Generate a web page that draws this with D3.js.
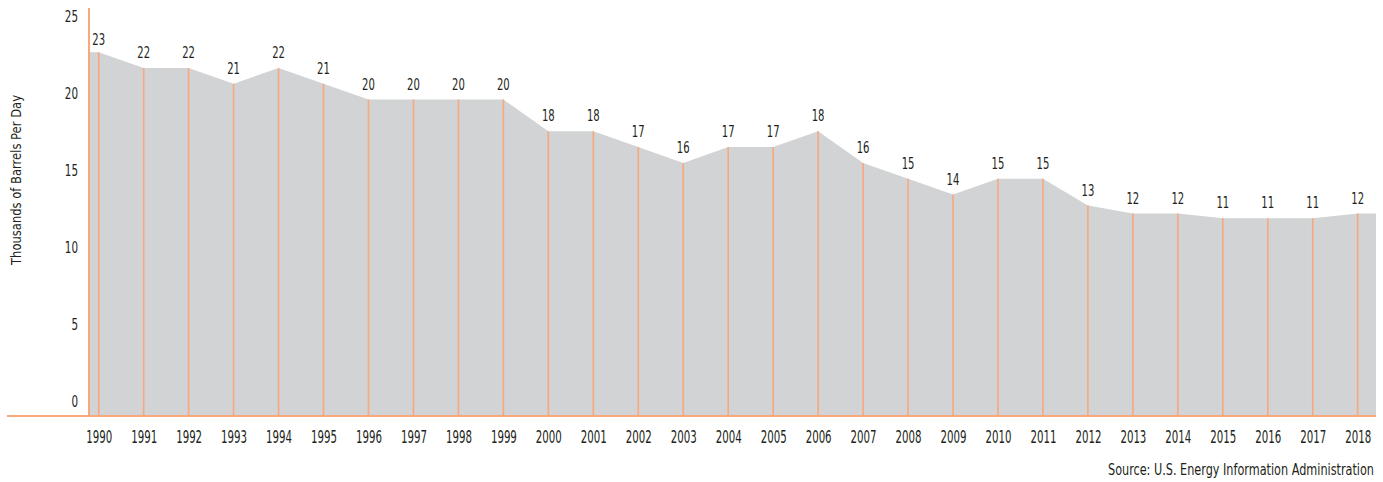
<!DOCTYPE html>
<html lang="en">

<head>
    <meta charset="UTF-8">
    <title>Consumption</title>
    <script src="https://d3js.org/d3.v7.min.js"></script>
    <style>
        body { margin: 0; background: #fff; }
        text { font-family: "Liberation Sans Narrow", "DejaVu Sans Condensed", "Roboto", sans-serif; fill: #231f20; }
    </style>
</head>

<body>
    <svg id="chart" width="1383" height="482"></svg>
</body>
<script>
    // data
    const years = d3.range(1990, 2019);
    const values = [23, 22, 22, 21, 22, 21, 20, 20, 20, 20, 18, 18, 17, 16, 17, 17, 18, 16, 15, 14, 15, 15,
        13.3, 12.8, 12.8, 12.5, 12.5, 12.5, 12.8];
    const labels = ['23', '22', '22', '21', '22', '21', '20', '20', '20', '20', '18', '18', '17', '16', '17', '17',
        '18', '16', '15', '14', '15', '15', '13', '12', '12', '11', '11', '11', '12'];
    const yTicks = [0, 5, 10, 15, 20, 25];

    const orange = '#f8a87c';
    const grey = '#d1d3d4';

    const svg = d3.select('#chart');
    const left = 89, right = 1376, base = 416;

    const x = d3.scaleLinear().domain([1990, 2018]).range([98.7, 1357.7]);
    const y = d3.scaleLinear().domain([0, 25]).range([base, base - 25 * 15.82]);
    // tick labels sit a bit above their gridline in the original
    const yLabel = d3.scaleLinear().domain([0, 25]).range([402, 17]);

    // the original font is a narrow DIN-like face, squeeze ours to the same width
    const squeeze = (sel, perChar) => sel
        .attr('textLength', function () { return this.textContent.length * perChar; })
        .attr('lengthAdjust', 'spacingAndGlyphs');

    const pts = years.map((yr, i) => ({ px: x(yr), v: values[i] }));
    const areaPts = [{ px: left, v: values[0] }, ...pts, { px: right, v: values[values.length - 1] }];

    // area
    svg.append('path')
        .datum(areaPts)
        .attr('fill', grey)
        .attr('d', d3.area().x(d => d.px).y0(base).y1(d => y(d.v)));

    // drop lines
    svg.append('g').selectAll('line')
        .data(pts)
        .join('line')
        .attr('x1', d => d.px).attr('x2', d => d.px)
        .attr('y1', d => y(d.v)).attr('y2', base)
        .attr('stroke', orange)
        .attr('stroke-width', 1.6);

    // value labels
    svg.append('g').selectAll('text')
        .data(pts)
        .join('text')
        .attr('x', d => d.px)
        .attr('y', (d, i) => y(d.v) - (i === 0 ? 7 : 10))
        .attr('text-anchor', 'middle')
        .attr('font-size', 15)
        .text((d, i) => labels[i])
        .call(squeeze, 6.4);

    // axes lines
    svg.append('line')
        .attr('x1', 7).attr('x2', right)
        .attr('y1', base).attr('y2', base)
        .attr('stroke', orange).attr('stroke-width', 2);
    svg.append('line')
        .attr('x1', left).attr('x2', left)
        .attr('y1', 8).attr('y2', base)
        .attr('stroke', orange).attr('stroke-width', 2);

    // y axis
    const yAxis = svg.append('g')
        .attr('transform', 'translate(78,0)')
        .call(d3.axisLeft(yLabel).tickValues(yTicks).tickSize(0).tickPadding(0));
    yAxis.select('.domain').remove();
    yAxis.selectAll('text').attr('font-size', 15).style('font-family', null).call(squeeze, 6.6);

    // x axis
    const xAxis = svg.append('g')
        .attr('transform', `translate(0,${base})`)
        .call(d3.axisBottom(x).tickValues(years).tickFormat(d3.format('d')).tickSize(0).tickPadding(15));
    xAxis.select('.domain').remove();
    xAxis.selectAll('text').attr('font-size', 17).style('font-family', null).call(squeeze, 6.5);

    // titles
    svg.append('text')
        .attr('transform', 'translate(21,180) rotate(-90)')
        .attr('text-anchor', 'middle')
        .attr('font-size', 14)
        .attr('textLength', 170)
        .attr('lengthAdjust', 'spacingAndGlyphs')
        .text('Thousands of Barrels Per Day');

    svg.append('text')
        .attr('x', 1374).attr('y', 475)
        .attr('text-anchor', 'end')
        .attr('font-size', 15)
        .attr('textLength', 266)
        .attr('lengthAdjust', 'spacingAndGlyphs')
        .text('Source: U.S. Energy Information Administration');
</script>

</html>
